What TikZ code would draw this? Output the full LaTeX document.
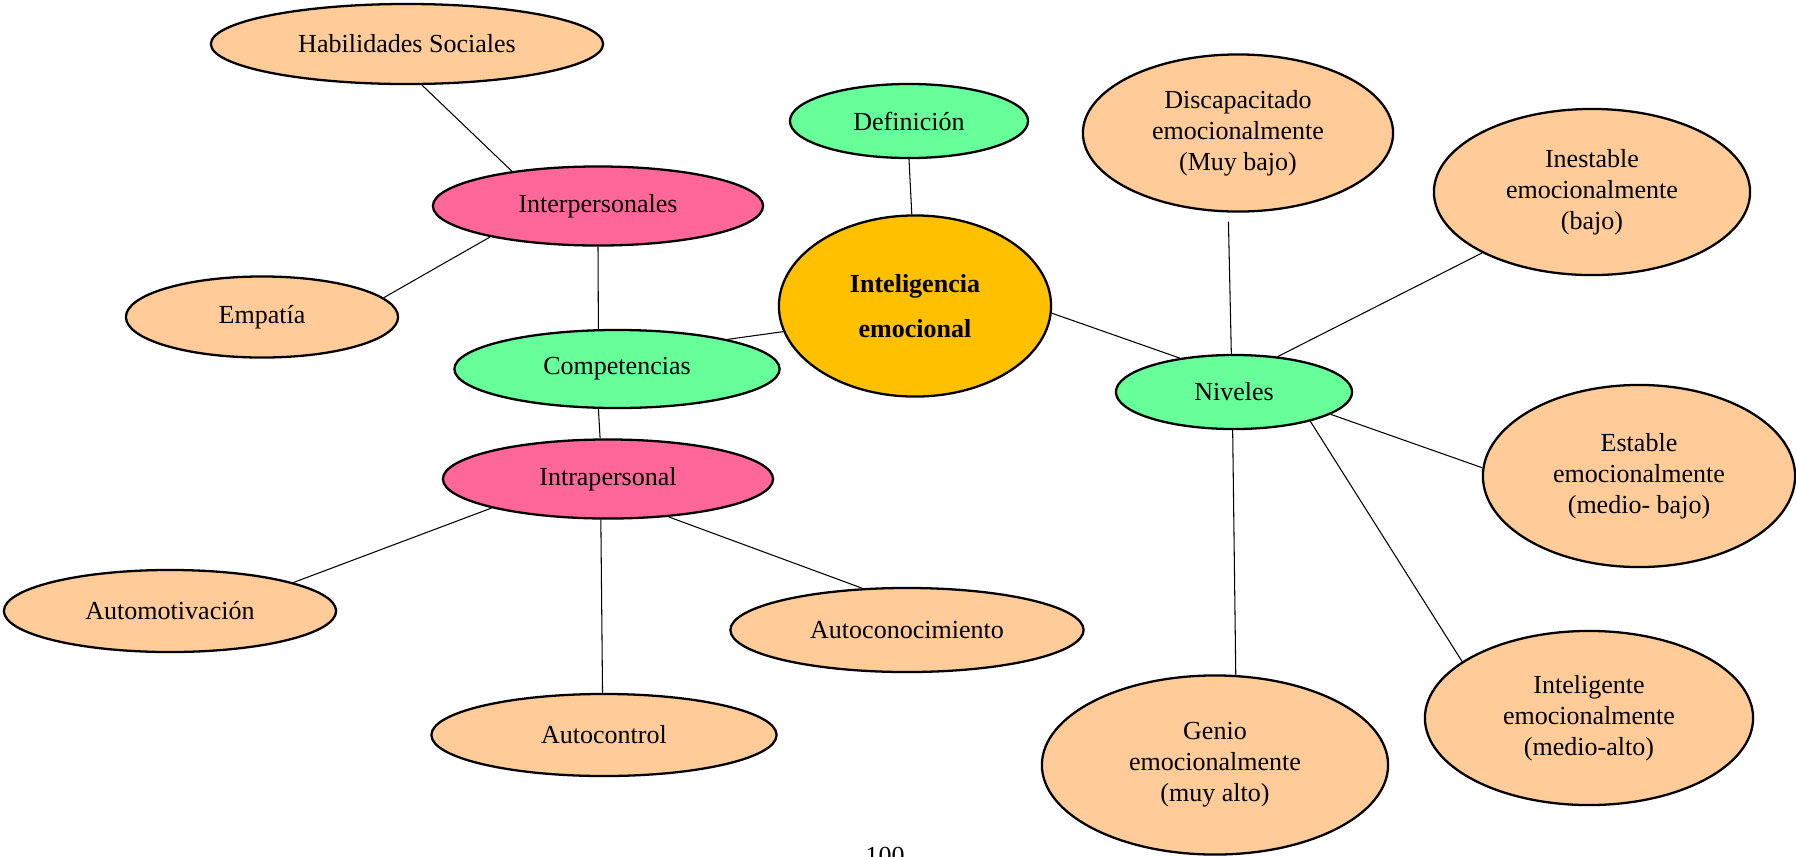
\documentclass[tikz,border=0pt]{standalone}
\usepackage{fontspec}
\setmainfont{Liberation Serif}
\usepackage{tikz}
\usetikzlibrary{shapes.geometric}
\definecolor{Peach}{HTML}{FFCC99}
\definecolor{Rose}{HTML}{FF6699}
\definecolor{Mint}{HTML}{66FF99}
\definecolor{Gold}{HTML}{FFC000}
\tikzset{
  elli/.style={ellipse,draw=black,line width=.65pt,inner sep=0pt,align=center,
    font=\fontsize{7.4pt}{8.8pt}\selectfont},
  leaf/.style={elli,fill=Peach},
  group/.style={elli,fill=Rose},
  branch/.style={elli,fill=Mint},
  core/.style={elli,fill=Gold,font=\fontsize{7.4pt}{13pt}\selectfont\bfseries},
  link/.style={draw=black,line width=.3pt}
}
\begin{document}
\begin{tikzpicture}[x=0.01cm,y=0.01cm]
    \useasboundingbox (0,0) rectangle (1796,856);
    % centro
    \node[core,minimum width=2.72cm,minimum height=1.81cm] (ie) at (915,550) {Inteligencia\\emocional};
    \node[branch,minimum width=2.38cm,minimum height=0.74cm] (defin) at (909,735) {Definición};
    \node[branch,minimum width=3.25cm,minimum height=0.78cm] (compet) at (617,487) {Competencias};
    \node[branch,minimum width=2.36cm,minimum height=0.74cm] (niv) at (1234,464) {Niveles};
    % competencias
    \node[group,minimum width=3.30cm,minimum height=0.79cm] (inter) at (598,650) {Interpersonales};
    \node[group,minimum width=3.30cm,minimum height=0.79cm] (intra) at (608,377) {Intrapersonal};
    \node[leaf,minimum width=3.92cm,minimum height=0.80cm] (habil) at (407,812) {Habilidades Sociales};
    \node[leaf,minimum width=2.72cm,minimum height=0.81cm] (empat) at (262,539) {Empatía};
    \node[leaf,minimum width=3.32cm,minimum height=0.82cm] (automot) at (170,245) {Automotivación};
    \node[leaf,minimum width=3.53cm,minimum height=0.84cm] (autocon) at (907,226) {Autoconocimiento};
    \node[leaf,minimum width=3.45cm,minimum height=0.82cm] (autoctl) at (604,121) {Autocontrol};
    % niveles
    \node[leaf,minimum width=3.10cm,minimum height=1.57cm] (discap) at (1238,723) {Discapacitado\\emocionalmente\\(Muy bajo)};
    \node[leaf,minimum width=3.16cm,minimum height=1.66cm] (inest) at (1592,664) {Inestable\\emocionalmente\\(bajo)};
    \node[leaf,minimum width=3.12cm,minimum height=1.82cm] (estab) at (1639,380) {Estable\\emocionalmente\\(medio- bajo)};
    \node[leaf,minimum width=3.28cm,minimum height=1.74cm] (intelig) at (1589,138) {Inteligente\\emocionalmente\\(medio-alto)};
    \node[leaf,minimum width=3.46cm,minimum height=1.79cm] (genio) at (1215,91) {Genio\\emocionalmente\\(muy alto)};
    \node[font=\fontsize{7.4pt}{8.8pt}\selectfont,anchor=base] (pag) at (885,-8) {100};

    \draw[link] (habil.290) -- (inter.158);
    \draw[link] (inter.196) -- (empat.9);
    \draw[link] (inter.270) -- (compet.115);
    \draw[link] (compet.15) -- (ie.191);
    \draw[link] (defin.270) -- (ie.92);
    \draw[link] (compet.245) -- (intra.101);
    \draw[link] (intra.194) -- (automot.13);
    \draw[link] (intra.260) -- (autoctl.92);
    \draw[link] (intra.328) -- (autocon.137);
    \draw[link] (ie.357) -- (niv.148);
    \draw[link,shorten >=0.9mm] (niv.94) -- (discap.263);
    \draw[link] (niv.39) -- (inest.209);
    \draw[link] (niv.347) -- (estab.177);
    \draw[link] (niv.339) -- (intelig.156);
    \draw[link] (niv.268) -- (genio.77);
\end{tikzpicture}
\end{document}
